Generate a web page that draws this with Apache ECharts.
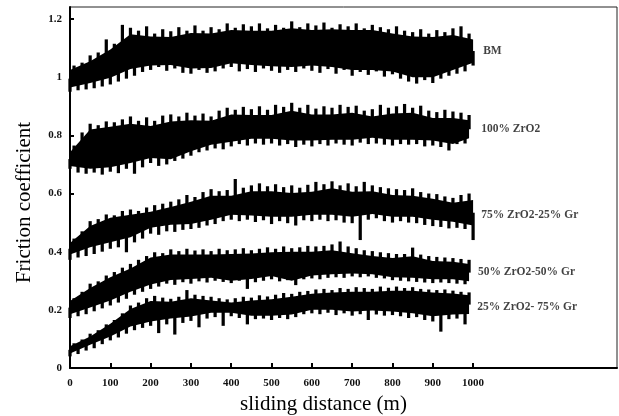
<!DOCTYPE html>
<html>
<head>
<meta charset="utf-8">
<script src="https://cdn.jsdelivr.net/npm/echarts@6/dist/echarts.min.js"></script>
<style>html,body{margin:0;padding:0;background:#fff}#c{width:619px;height:416px}</style>
</head>
<body>
<div id="c"></div>
<script>
// ---- axis ticks ----
const xTickValues = [0, 100, 200, 300, 400, 500, 600, 700, 800, 900, 1000];
const yTickValues = [0, 0.2, 0.4, 0.6, 0.8, 1, 1.2];

// ---- band sample distances (m) ----
const bandDistLong = [0, 50, 100, 150, 200, 250, 300, 350, 400, 450, 500, 550, 600, 650, 700, 750, 800, 850, 900, 950, 1000];
const bandDistShort = [0, 50, 100, 150, 200, 250, 300, 350, 400, 450, 500, 550, 600, 650, 700, 750, 800, 850, 900, 950, 990];
const traceStep = 10; // m between trace samples

// ---- BM ----
const bmLow  = [0.965, 0.980, 0.998, 1.028, 1.040, 1.042, 1.030, 1.032, 1.048, 1.042, 1.038, 1.035, 1.040, 1.035, 1.025, 1.025, 1.020, 1.000, 1.000, 1.025, 1.050];
const bmHigh = [1.025, 1.055, 1.095, 1.148, 1.140, 1.138, 1.152, 1.150, 1.162, 1.160, 1.160, 1.168, 1.162, 1.165, 1.162, 1.162, 1.150, 1.140, 1.138, 1.145, 1.130];
const bmTrace = [0.950, 1.040, 0.955, 1.050, 0.958, 1.075, 0.962, 1.085, 0.968, 1.130,
  0.975, 1.115, 0.985, 1.180, 0.995, 1.170, 1.005, 1.160, 1.018, 1.175,
  1.025, 1.150, 1.035, 1.165, 1.022, 1.158, 1.030, 1.172, 1.015, 1.160,
  1.012, 1.178, 1.025, 1.160, 1.015, 1.172, 1.020, 1.165, 1.030, 1.185,
  1.035, 1.170, 1.020, 1.182, 1.028, 1.175, 1.018, 1.185, 1.030, 1.168,
  1.022, 1.180, 1.015, 1.170, 1.025, 1.192, 1.018, 1.172, 1.030, 1.185,
  1.022, 1.178, 1.015, 1.188, 1.028, 1.170, 1.012, 1.182, 1.025, 1.175,
  1.005, 1.185, 1.018, 1.168, 1.008, 1.180, 1.020, 1.172, 1.002, 1.165,
  1.010, 1.175, 0.995, 1.160, 0.985, 1.155, 0.978, 1.165, 0.990, 1.150,
  0.980, 1.162, 0.995, 1.155, 1.005, 1.168, 1.012, 1.175, 1.020, 1.150, 1.040];

// ---- 100% ZrO2 ----
const zr100Low  = [0.695, 0.685, 0.690, 0.705, 0.722, 0.718, 0.745, 0.768, 0.778, 0.788, 0.788, 0.782, 0.782, 0.785, 0.785, 0.792, 0.785, 0.785, 0.782, 0.770, 0.790];
const zr100High = [0.742, 0.820, 0.830, 0.840, 0.832, 0.848, 0.852, 0.850, 0.872, 0.870, 0.870, 0.885, 0.872, 0.872, 0.878, 0.865, 0.875, 0.878, 0.860, 0.860, 0.852];
const zr100Trace = [0.685, 0.765, 0.672, 0.810, 0.668, 0.840, 0.672, 0.835, 0.665, 0.848,
  0.675, 0.845, 0.670, 0.855, 0.685, 0.865, 0.668, 0.850, 0.690, 0.862,
  0.705, 0.850, 0.695, 0.868, 0.700, 0.872, 0.712, 0.865, 0.720, 0.878,
  0.730, 0.868, 0.742, 0.875, 0.748, 0.865, 0.755, 0.885, 0.752, 0.895,
  0.762, 0.888, 0.770, 0.898, 0.765, 0.890, 0.772, 0.900, 0.768, 0.888,
  0.772, 0.905, 0.765, 0.898, 0.770, 0.912, 0.760, 0.895, 0.768, 0.905,
  0.762, 0.892, 0.770, 0.900, 0.765, 0.895, 0.772, 0.905, 0.768, 0.898,
  0.765, 0.902, 0.775, 0.885, 0.770, 0.890, 0.772, 0.905, 0.768, 0.895,
  0.765, 0.900, 0.770, 0.908, 0.768, 0.895, 0.770, 0.902, 0.762, 0.885,
  0.765, 0.880, 0.760, 0.888, 0.748, 0.882, 0.770, 0.878, 0.772, 0.870];

// ---- 75% ZrO2-25% Gr ----
const zr75Low  = [0.390, 0.415, 0.432, 0.450, 0.482, 0.493, 0.495, 0.510, 0.527, 0.524, 0.520, 0.520, 0.527, 0.527, 0.520, 0.530, 0.520, 0.520, 0.510, 0.503, 0.490];
const zr75High = [0.430, 0.488, 0.517, 0.527, 0.537, 0.554, 0.572, 0.592, 0.592, 0.608, 0.608, 0.602, 0.606, 0.618, 0.606, 0.608, 0.595, 0.592, 0.582, 0.568, 0.578];
const zr75Trace = [0.372, 0.445, 0.380, 0.470, 0.385, 0.505, 0.392, 0.512, 0.400, 0.528,
  0.410, 0.525, 0.415, 0.540, 0.398, 0.545, 0.432, 0.540, 0.445, 0.552,
  0.462, 0.560, 0.458, 0.565, 0.470, 0.572, 0.468, 0.580, 0.475, 0.595,
  0.478, 0.588, 0.482, 0.605, 0.490, 0.615, 0.495, 0.608, 0.505, 0.612,
  0.510, 0.650, 0.505, 0.620, 0.510, 0.628, 0.502, 0.635, 0.508, 0.625,
  0.495, 0.632, 0.505, 0.622, 0.498, 0.628, 0.490, 0.620, 0.508, 0.630,
  0.505, 0.640, 0.510, 0.632, 0.505, 0.642, 0.508, 0.628, 0.500, 0.635,
  0.498, 0.625, 0.440, 0.640, 0.510, 0.628, 0.515, 0.622, 0.505, 0.618,
  0.500, 0.615, 0.505, 0.612, 0.500, 0.618, 0.498, 0.605, 0.492, 0.600,
  0.488, 0.598, 0.485, 0.590, 0.480, 0.585, 0.482, 0.595, 0.478, 0.600, 0.440];

// ---- 50% ZrO2-50% Gr ----
const zr50Low  = [0.185, 0.208, 0.232, 0.262, 0.287, 0.303, 0.306, 0.310, 0.300, 0.306, 0.316, 0.300, 0.318, 0.322, 0.325, 0.322, 0.312, 0.310, 0.305, 0.305, 0.298];
const zr50High = [0.230, 0.275, 0.312, 0.342, 0.380, 0.390, 0.390, 0.390, 0.392, 0.394, 0.398, 0.400, 0.400, 0.405, 0.395, 0.385, 0.378, 0.384, 0.368, 0.365, 0.358];
const zr50Trace = [0.172, 0.240, 0.178, 0.262, 0.185, 0.290, 0.195, 0.298, 0.205, 0.318,
  0.215, 0.330, 0.225, 0.345, 0.238, 0.358, 0.252, 0.372, 0.262, 0.385,
  0.272, 0.398, 0.280, 0.395, 0.290, 0.408, 0.286, 0.402, 0.295, 0.410,
  0.290, 0.404, 0.298, 0.408, 0.294, 0.402, 0.300, 0.410, 0.296, 0.405,
  0.292, 0.408, 0.300, 0.412, 0.272, 0.405, 0.295, 0.410, 0.300, 0.415,
  0.305, 0.410, 0.298, 0.418, 0.302, 0.412, 0.285, 0.415, 0.305, 0.420,
  0.308, 0.418, 0.305, 0.420, 0.310, 0.425, 0.312, 0.435, 0.310, 0.418,
  0.315, 0.412, 0.312, 0.405, 0.315, 0.402, 0.310, 0.398, 0.308, 0.395,
  0.302, 0.392, 0.300, 0.392, 0.298, 0.414, 0.296, 0.390, 0.294, 0.385,
  0.292, 0.382, 0.294, 0.380, 0.292, 0.378, 0.290, 0.375, 0.288, 0.372];

// ---- 25% ZrO2-75% Gr ----
const zr25Low  = [0.050, 0.080, 0.108, 0.143, 0.160, 0.170, 0.177, 0.190, 0.190, 0.180, 0.180, 0.184, 0.200, 0.200, 0.194, 0.198, 0.194, 0.188, 0.178, 0.184, 0.186];
const zr25High = [0.075, 0.108, 0.152, 0.203, 0.230, 0.228, 0.240, 0.232, 0.225, 0.232, 0.236, 0.245, 0.255, 0.260, 0.262, 0.262, 0.266, 0.266, 0.260, 0.256, 0.250];
const zr25Trace = [0.040, 0.085, 0.048, 0.098, 0.060, 0.118, 0.068, 0.130, 0.082, 0.150,
  0.095, 0.165, 0.105, 0.188, 0.118, 0.215, 0.130, 0.225, 0.138, 0.240,
  0.145, 0.248, 0.120, 0.242, 0.150, 0.238, 0.115, 0.245, 0.155, 0.268,
  0.162, 0.252, 0.140, 0.248, 0.170, 0.245, 0.175, 0.240, 0.145, 0.236,
  0.178, 0.240, 0.172, 0.245, 0.150, 0.242, 0.168, 0.250, 0.170, 0.246,
  0.165, 0.252, 0.172, 0.258, 0.168, 0.255, 0.175, 0.262, 0.185, 0.265,
  0.188, 0.270, 0.185, 0.272, 0.190, 0.268, 0.182, 0.275, 0.188, 0.272,
  0.180, 0.278, 0.185, 0.275, 0.165, 0.272, 0.184, 0.280, 0.180, 0.276,
  0.182, 0.280, 0.178, 0.275, 0.172, 0.278, 0.175, 0.272, 0.165, 0.270,
  0.160, 0.268, 0.125, 0.270, 0.168, 0.266, 0.170, 0.262, 0.150, 0.260];

const seriesNames = ['BM', '100% ZrO2', '75% ZrO2-25% Gr', '50% ZrO2-50% Gr', '25% ZrO2- 75% Gr'];

const groups = [
  { name: seriesNames[0], dist: bandDistLong,  low: bmLow,    high: bmHigh,    trace: bmTrace,    label: [1025, 1.090] },
  { name: seriesNames[1], dist: bandDistShort, low: zr100Low, high: zr100High, trace: zr100Trace, label: [1020, 0.822] },
  { name: seriesNames[2], dist: bandDistLong,  low: zr75Low,  high: zr75High,  trace: zr75Trace,  label: [1020, 0.526] },
  { name: seriesNames[3], dist: bandDistShort, low: zr50Low,  high: zr50High,  trace: zr50Trace,  label: [1012, 0.330] },
  { name: seriesNames[4], dist: bandDistShort, low: zr25Low,  high: zr25High,  trace: zr25Trace,  label: [1010, 0.210] }
];

// middle of the dense band at distance d (linear between band samples)
function bandMid(g, d) {
  const x = g.dist;
  if (d <= x[0]) return (g.low[0] + g.high[0]) / 2;
  for (let i = 1; i < x.length; i++) {
    if (d <= x[i]) {
      const t = (d - x[i - 1]) / (x[i] - x[i - 1]);
      const a = (g.low[i - 1] + g.high[i - 1]) / 2, b = (g.low[i] + g.high[i]) / 2;
      return a + (b - a) * t;
    }
  }
  const n = x.length - 1;
  return (g.low[n] + g.high[n]) / 2;
}

const serif = '"Liberation Serif", "DejaVu Serif", serif';
const series = [];
groups.forEach(function (g) {
  // dense core of the trace
  series.push({
    type: 'custom',
    name: g.name + ' band',
    silent: true,
    data: [[g.dist[0], g.low[0]]],
    encode: { x: 0, y: 1 },
    renderItem: function (params, api) {
      const pts = [];
      for (let i = 0; i < g.dist.length; i++) pts.push(api.coord([g.dist[i], g.high[i]]));
      for (let i = g.dist.length - 1; i >= 0; i--) pts.push(api.coord([g.dist[i], g.low[i]]));
      return { type: 'polygon', shape: { points: pts }, style: { fill: '#000', stroke: null } };
    },
    z: 2
  });
  // fluctuation strokes of the trace
  series.push({
    type: 'custom',
    name: g.name,
    silent: true,
    data: g.trace.map(function (v, i) { return [i * traceStep, v]; }),
    encode: { x: 0, y: 1 },
    renderItem: function (params, api) {
      const d = api.value(0), v = api.value(1);
      const p = api.coord([d, v]);
      const m = api.coord([d, bandMid(g, d)]);
      const w = api.size([traceStep, 0])[0] * 0.8;
      return {
        type: 'rect',
        shape: { x: p[0] - w / 2, y: Math.min(p[1], m[1]), width: w, height: Math.abs(p[1] - m[1]) },
        style: { fill: '#000' }
      };
    },
    z: 3
  });
  // curve name
  series.push({
    type: 'scatter',
    name: g.name + ' label',
    silent: true,
    data: [g.label],
    symbolSize: 0,
    itemStyle: { color: 'rgba(0,0,0,0)' },
    label: {
      show: true, position: 'right', distance: 0,
      formatter: g.name, color: '#111', fontFamily: serif, fontWeight: 'bold', fontSize: 11.5
    },
    z: 4
  });
});

const chart = echarts.init(document.getElementById('c'), null, { renderer: 'canvas' });
chart.setOption({
  animation: false,
  backgroundColor: '#fff',
  grid: { left: 70, right: 2, top: 7, bottom: 48, outerBoundsMode: 'none', containLabel: false, show: true, borderColor: '#222', borderWidth: 1, backgroundColor: 'transparent' },
  xAxis: {
    type: 'value', min: 0, max: 1357, interval: 100,
    name: 'sliding distance (m)', nameLocation: 'middle', nameGap: 26,
    nameTextStyle: { fontFamily: serif, fontSize: 21, color: '#000', padding: [0, 40, 0, 0] },
    axisLine: { show: true, lineStyle: { color: '#000', width: 2 } },
    axisTick: { show: true, inside: true, length: 5, lineStyle: { color: '#000', width: 2 }, customValues: xTickValues },
    axisLabel: { show: true, margin: 10, color: '#111', fontFamily: serif, fontWeight: 'bold', fontSize: 11, customValues: xTickValues, formatter: function (v) { return String(v); } },
    splitLine: { show: false }
  },
  yAxis: {
    type: 'value', min: 0, max: 1.2414, interval: 0.2,
    name: 'Friction coefficient', nameLocation: 'middle', nameGap: 35,
    nameTextStyle: { fontFamily: serif, fontSize: 21, color: '#000', padding: [0, 30, 0, 0] },
    axisLine: { show: true, lineStyle: { color: '#000', width: 2 } },
    axisTick: { show: true, inside: true, length: 4, lineStyle: { color: '#000', width: 2 }, customValues: yTickValues },
    axisLabel: { show: true, margin: 8, color: '#111', fontFamily: serif, fontWeight: 'bold', fontSize: 11, customValues: yTickValues, formatter: function (v) { return String(v); } },
    splitLine: { show: false }
  },
  series: series
});
</script>
</body>
</html>
